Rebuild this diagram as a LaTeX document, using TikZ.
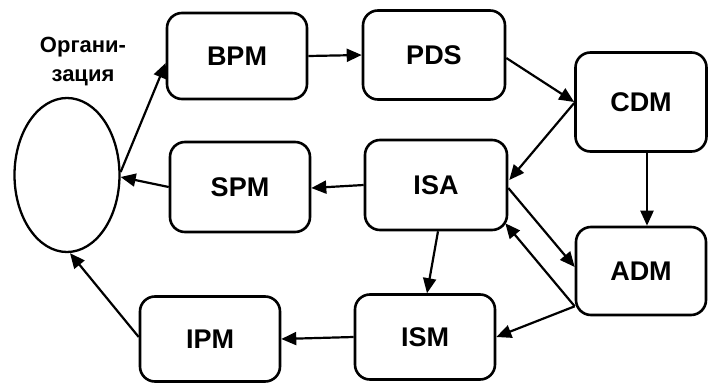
\documentclass[tikz,border=0pt]{standalone}
\usepackage{fontspec}
\setmainfont{Liberation Sans}
\usetikzlibrary{arrows.meta,shapes.geometric}
\tikzset{
  box/.style={draw, line width=2.6pt, rounded corners=15pt, minimum width=140pt, minimum height=88pt, inner sep=0pt,
    font=\bfseries\fontsize{27}{30}\selectfont},
  org/.style={draw, line width=2.3pt, ellipse, minimum width=105pt, minimum height=154pt, inner sep=0pt},
  conn/.style={line width=2.2pt, -{Triangle[length=15pt,width=13pt]}},
  lbl/.style={font=\bfseries\fontsize{22}{29}\selectfont, align=center, inner sep=0pt}
}
\begin{document}
\begin{tikzpicture}[x=1pt,y=-1pt]
\useasboundingbox (0,0) rectangle (710,383);
\node[box, minimum width=140pt, minimum height=86pt] (BPM) at (237,56) {BPM};
\node[box, minimum width=142pt, minimum height=89pt] (PDS) at (434,55) {PDS};
\node[box, minimum width=131pt, minimum height=99pt] (CDM) at (641,102) {CDM};
\node[box, minimum width=140pt, minimum height=90pt] (SPM) at (240,187) {SPM};
\node[box, minimum width=142pt, minimum height=90pt] (ISA) at (436,185) {ISA};
\node[box, minimum width=130pt, minimum height=88pt] (ADM) at (641,271) {ADM};
\node[box, minimum width=140pt, minimum height=85pt] (ISM) at (425,337) {ISM};
\node[box, minimum width=140pt, minimum height=85pt] (IPM) at (210,339) {IPM};
\node[org] (ORG) at (67,175) {};
\node[lbl] (L) at (83,62) {Органи-\\зация};

\draw[conn] ([yshift=3pt]ORG.east) -- ([yshift=-7pt]BPM.west);
\draw[conn] (SPM.west) -- ([yshift=-2pt]ORG.east);
\draw[conn] (BPM.east) -- (PDS.west);
\draw[conn] ([yshift=-3pt]PDS.east) -- (CDM.west);
\draw[conn] ([yshift=-1pt]CDM.west) -- ([xshift=1pt,yshift=5pt]ISA.east);
\draw[conn] (ISA.west) -- ([yshift=-1pt]SPM.east);
\draw[conn] ([xshift=6pt]CDM.south) -- ([xshift=6pt]ADM.north);
\draw[conn] ([yshift=-3pt]ISA.east) -- ([yshift=4pt]ADM.west);
\draw[conn] ([yshift=10pt]ADM.south west) -- ([xshift=-3pt,yshift=8pt]ISA.south east);
\draw[conn] ([yshift=10pt]ADM.south west) -- (ISM.east);
\draw[conn] ([xshift=2pt]ISA.south) -- ([xshift=2pt]ISM.north);
\draw[conn] (ISM.west) -- (IPM.east);
\draw[conn] ([yshift=2pt]IPM.west) -- ([xshift=3pt]ORG.south);
\end{tikzpicture}
\end{document}
